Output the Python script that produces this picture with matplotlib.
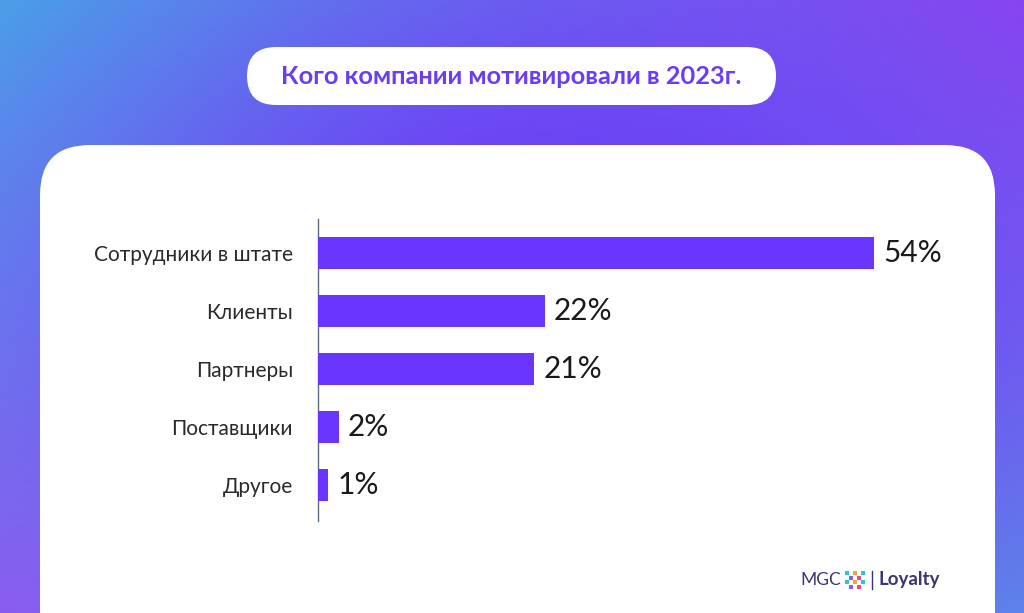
import matplotlib.pyplot as plt
import numpy as np
from matplotlib.patches import FancyBboxPatch

categories = ["Сотрудники в штате", "Клиенты", "Партнеры", "Поставщики", "Другое"]
values = [54, 22, 21, 2, 1]
title = "Кого компании мотивировали в 2023г."

W, H = 1024, 613
fig = plt.figure(figsize=(W / 100, H / 100), dpi=100)

# background in pixel units
bg = fig.add_axes([0, 0, 1, 1])
bg.set_xlim(0, W)
bg.set_ylim(H, 0)
bg.axis("off")

tl = np.array([70, 170, 230]) / 255
tr = np.array([140, 70, 240]) / 255
bl = np.array([140, 95, 240]) / 255
br = np.array([90, 140, 232]) / 255
mid = np.array([108, 58, 246]) / 255
yy, xx = np.mgrid[0:1:200j, 0:1:340j]
grad = (tl * ((1 - xx) * (1 - yy))[..., None] + tr * (xx * (1 - yy))[..., None]
        + bl * ((1 - xx) * yy)[..., None] + br * (xx * yy)[..., None])
w = np.exp(-(((xx - 0.55) / 0.45) ** 2 + ((yy - 0.45) / 0.5) ** 2))[..., None]
grad = grad * (1 - w) + mid * w
bg.imshow(grad, extent=[0, W, H, 0], aspect="auto", zorder=0)

bg.add_patch(FancyBboxPatch((40 + 50, 145 + 50), 955 - 100, 600, boxstyle="round,pad=50",
                            fc="white", ec="none", zorder=1))
bg.add_patch(FancyBboxPatch((247 + 29, 47 + 29), 529 - 58, 0, boxstyle="round,pad=29",
                            fc="white", ec="none", zorder=1))
bg.text(511, 77, title, ha="center", va="center", fontsize=18.3, fontweight="bold",
        family="Lato", color="#6a3cf6", zorder=2)

# logo
bg.text(800, 580, "MGC", ha="left", va="center", fontsize=12.5, family="Lato",
        color="#3b3570", zorder=2)
dot_cols = ["#2ec4d6", "#e84a8a", "#f2a33a", "#8a5cf0"]
for i in range(5):
    for j in range(4):
        if (i + j) % 2 == 0:
            bg.scatter(847 + i * 4, 573 + j * 4.5, s=7, marker="s",
                       color=dot_cols[(i + 2 * j) % 4], zorder=2, linewidths=0)
bg.plot([872, 872], [571, 589], color="#3b3570", lw=1, zorder=2)
bg.text(879, 580, "Loyalty", ha="left", va="center", fontsize=13.5, fontweight="bold",
        family="Lato", color="#3b3570", zorder=2)

# chart
ax = fig.add_axes([318 / W, 1 - 521 / H, 670 / W, (521 - 219) / H])
ax.set_facecolor("none")
y = np.arange(len(categories))
bars = ax.barh(y, values, height=0.55, color="#6a35ff", zorder=3)
ax.set_xlim(0, 670 / 10.3)
ax.set_ylim(4.62, -0.59)
ax.set_yticks(y)
ax.set_yticklabels(categories, fontsize=15, family="Lato", color="#2a2a2a")
ax.tick_params(axis="y", length=0, pad=18)
ax.set_xticks([])
for s in ["top", "right", "bottom"]:
    ax.spines[s].set_visible(False)
ax.spines["left"].set_color("#5a6a80")
ax.spines["left"].set_linewidth(1)
for b, v in zip(bars, values):
    ax.text(v + 0.9, b.get_y() + b.get_height() / 2, f"{v}%", va="center", ha="left",
            fontsize=21.5, family="Lato", color="#1a1a1a")

fig.savefig("out.png", dpi=100)
